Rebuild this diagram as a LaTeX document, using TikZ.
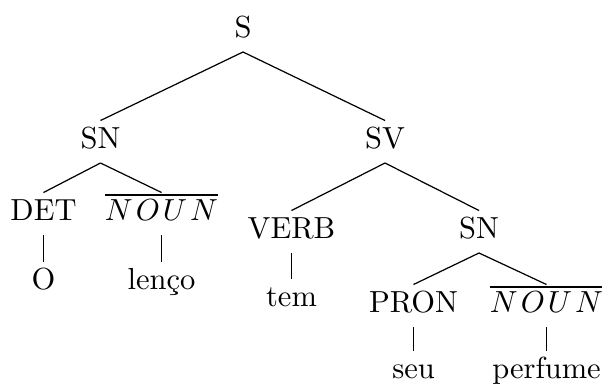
\documentclass[tikz,border=0pt]{standalone}
\usepackage{graphicx}
\newcommand{\lab}[1]{\scalebox{1.25}{#1}}
\newcommand{\nounbar}{$\overline{N\mkern1.8mu O\mkern1.8mu U\mkern1.8mu N}$}
\begin{document}
\begin{tikzpicture}[x=0.41pt,y=-0.41pt,
  lbl/.style={anchor=base,inner sep=0pt,text height=11.07pt,text depth=5.95pt,
    font=\fontsize{10pt}{12pt}\selectfont},
  branch/.style={line width=0.5pt,black}]
\useasboundingbox (0,0) rectangle (602,386);
% phrase structure nodes
\node[lbl] (S)     at (243,37)    {\lab{S}};
\node[lbl] (SN)    at (100.5,148) {\lab{SN}};
\node[lbl] (SV)    at (385,148)   {\lab{SV}};
\node[lbl] (DET)   at (43.5,220)  {\lab{DET}};
\node[lbl] (NOUNa) at (161.5,220) {\lab{\nounbar}};
\node[lbl] (VERB)  at (291.5,238) {\lab{VERB}};
\node[lbl] (SNb)   at (479,238)   {\lab{SN}};
\node[lbl] (PRON)  at (413.5,312) {\lab{PRON}};
\node[lbl] (NOUNb) at (546.5,312) {\lab{\nounbar}};
% words
\node[lbl] (O)     at (43.5,289)  {\lab{O}};
\node[lbl] (lenco) at (161.5,289) {\lab{lenço}};
\node[lbl] (tem)   at (291.5,306) {\lab{tem}};
\node[lbl] (seu)   at (413.5,378) {\lab{seu}};
\node[lbl] (perf)  at (546.5,378) {\lab{perfume}};
% branches
\draw[branch] (S.south) -- (SN.north);
\draw[branch] (S.south) -- (SV.north);
\draw[branch] (SN.south) -- (DET.north);
\draw[branch] (SN.south) -- (NOUNa.north);
\draw[branch] (SV.south) -- (VERB.north);
\draw[branch] (SV.south) -- (SNb.north);
\draw[branch] (SNb.south) -- (PRON.north);
\draw[branch] (SNb.south) -- (NOUNb.north);
\draw[branch] (DET.south) -- (O.north);
\draw[branch] (NOUNa.south) -- (lenco.north);
\draw[branch] (VERB.south) -- (tem.north);
\draw[branch] (PRON.south) -- (seu.north);
\draw[branch] (NOUNb.south) -- (perf.north);
\end{tikzpicture}
\end{document}
